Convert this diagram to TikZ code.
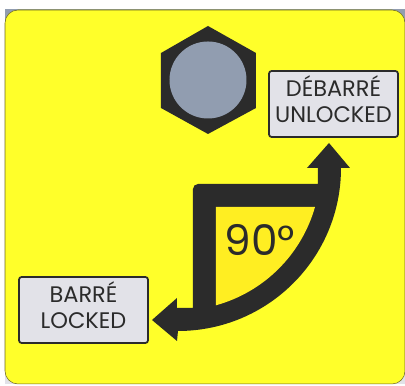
\documentclass[tikz,border=0pt]{standalone}
\usepackage{xcolor}
\usepackage{fontspec}
\setmainfont{Poppins}
\usetikzlibrary{arrows.meta, calc}
\definecolor{panelyellow}{HTML}{FFFF2A}
\definecolor{wedgeyellow}{HTML}{FFEE22}
\definecolor{markdark}{HTML}{2B2B2B}
\definecolor{boltgrey}{HTML}{919DB0}
\definecolor{labelgrey}{HTML}{E2E2E8}
\begin{document}
\begin{tikzpicture}[every node/.style={font=\fontsize{12.8}{14.7}\selectfont, text=markdark},
    statebox/.style={draw=markdark, line width=1pt, rounded corners=1.5pt, fill=labelgrey, align=center, minimum width=2.58cm, minimum height=1.32cm, inner sep=0pt, text depth=0.19cm}]
  \useasboundingbox (0,0) rectangle (8.1,7.72);
  \shade[top color=boltgrey, bottom color=labelgrey] (0.10,0.04) rectangle (8.1,7.52);
  \draw[draw=olive!70!black, line width=0.3pt, fill=panelyellow, rounded corners=0.26cm] (0.10,0.04) rectangle (8.1,7.52);
  % bolt
  \fill[markdark] (4.16,7.2) -- (5.12,6.66) -- (5.12,5.56) -- (4.16,5.04) -- (3.22,5.56) -- (3.22,6.66) -- cycle;
  \fill[boltgrey] (4.16,6.12) circle (0.77);
  % quarter turn arrow
  \fill[markdark] (3.86,1.56) [rounded corners=0.1cm] -- (3.86,4.04) [sharp corners] -- (6.36,4.04) -- (6.36,4.36) -- (6.14,4.36) -- (6.58,4.86) -- (7.0,4.36) -- (6.82,4.36) arc[start angle=0, end angle=-90, radius=3.26] -- (3.54,0.90) -- (3.04,1.32) -- (3.54,1.76) -- (3.54,1.56) -- cycle;
  \fill[wedgeyellow] (4.32,3.58) -- (6.30,3.58) arc[start angle=-15.9, end angle=-74.6, radius=2.85] -- cycle;
  \node[font=\fontsize{24}{24}\selectfont] (angle) at (5.2,2.92) {90°};
  \node[statebox] (unlocked) at (6.67,5.64) {DÉBARRÉ\\UNLOCKED};
  \node[statebox] (locked) at (1.67,1.52) {BARRÉ\\LOCKED};
\end{tikzpicture}
\end{document}
